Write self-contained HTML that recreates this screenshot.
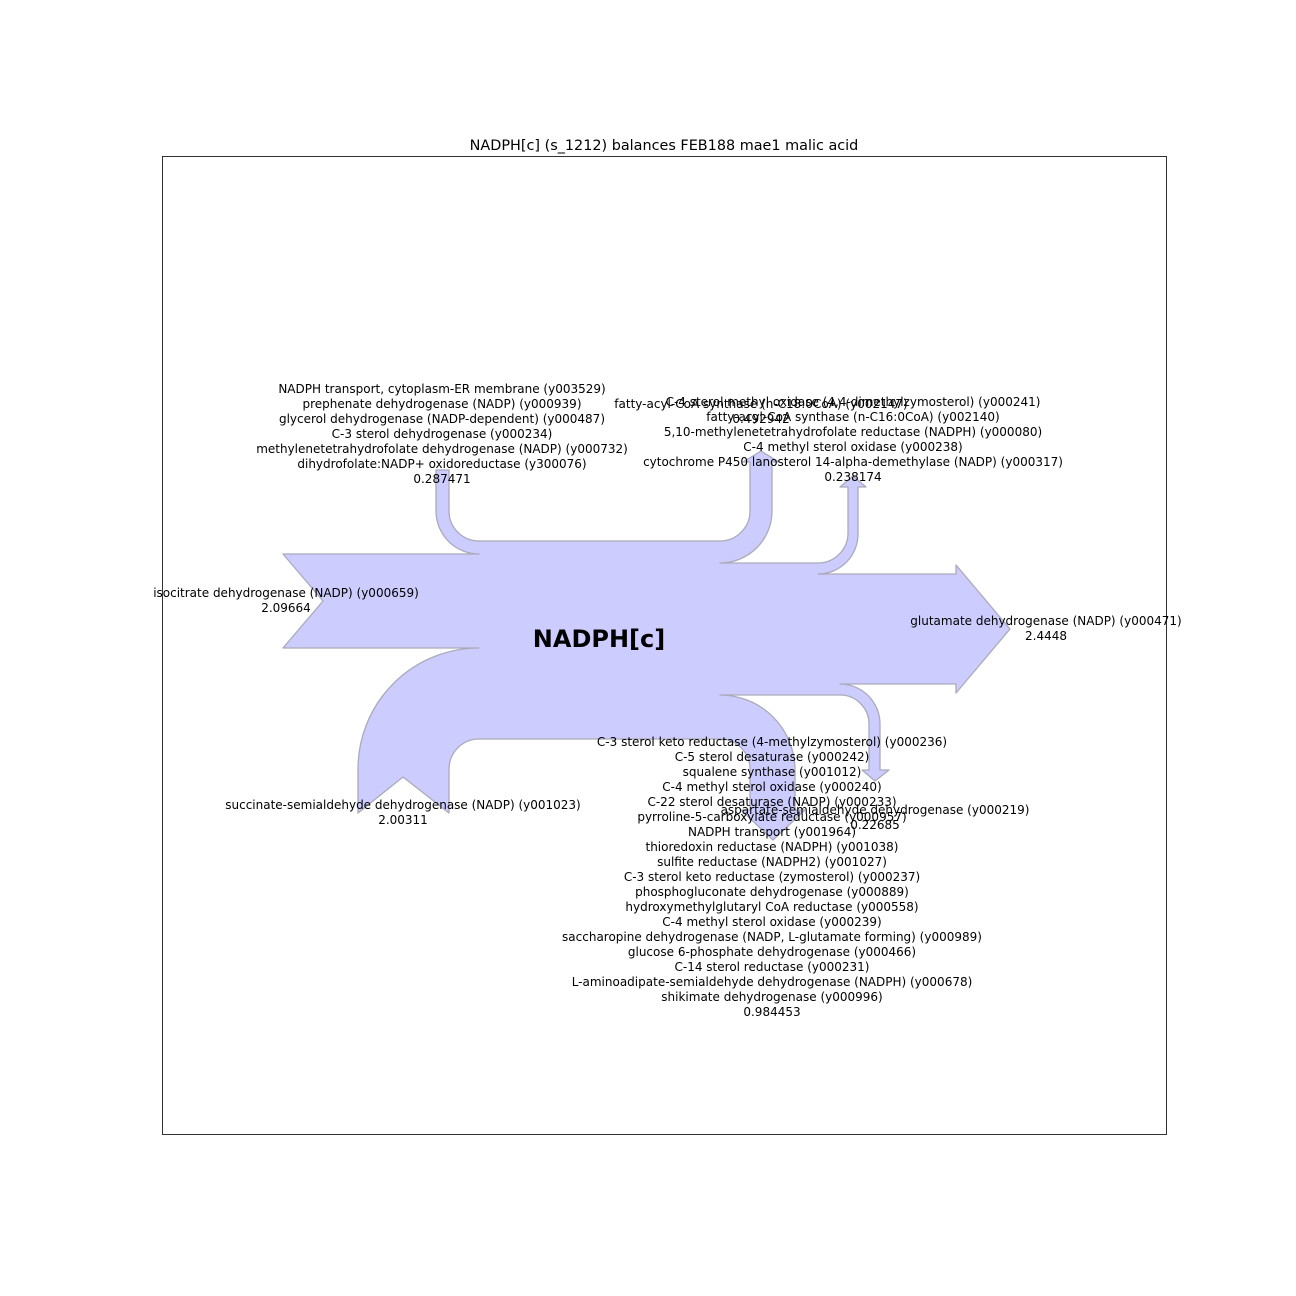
<!DOCTYPE html>
<html><head><meta charset="utf-8"><style>
html,body{margin:0;padding:0;background:#fff;}
svg{display:block;}
text{font-family:"DejaVu Sans","Liberation Sans",sans-serif;font-size:12px;fill:#000;}
</style></head><body>
<svg width="1296" height="1296" viewBox="0 0 1296 1296" xmlns="http://www.w3.org/2000/svg">
<rect x="162.5" y="156.5" width="1004" height="978" fill="none" stroke="#000" stroke-width="0.8"/>
<text x="664" y="150" text-anchor="middle" style="font-size:14.4px">NADPH[c] (s_1212) balances FEB188 mae1 malic acid</text>
<path fill="#ccccff" stroke="#aaaabb" stroke-width="1.3" stroke-linejoin="round" d="
M283,554 L479,554 A43,43 0 0 1 436,511 L436,470 L449,470 L449,511 A30,30 0 0 0 479,541
L720,541 A30,30 0 0 0 750,511 L750,462 L743,462 L761,451 L779,462 L772,462 L772,511 A52,52 0 0 1 720,563
L818,563 A30,30 0 0 0 848,533 L848,487 L840,487 L853,476 L866,487 L858,487 L858,533 A40,40 0 0 1 818,574
L956,574 L956,565 L1010,629 L956,693 L956,684 L840,684 A40,40 0 0 1 880,724 L880,770 L889,770 L875,781 L862,770 L869,770 L869,724 A29,29 0 0 0 840,695
L720,695 A75,75 0 0 1 795,770 L795,810 L805,810 L773,840 L741,810 L750,810 L750,769 A30,30 0 0 0 720,739
L479,739 A30,30 0 0 0 449,769 L449,813 L403,777 L358,813 L358,769 A121,121 0 0 1 479,648 L283,648 L323,601 Z"/>
<text x="599" y="647" text-anchor="middle" style="font-size:24px;font-weight:bold">NADPH[c]</text>
<g text-anchor="middle">
<text x="442" y="393">NADPH transport, cytoplasm-ER membrane (y003529)</text>
<text x="442" y="408">prephenate dehydrogenase (NADP) (y000939)</text>
<text x="442" y="423">glycerol dehydrogenase (NADP-dependent) (y000487)</text>
<text x="442" y="438">C-3 sterol dehydrogenase (y000234)</text>
<text x="442" y="453">methylenetetrahydrofolate dehydrogenase (NADP) (y000732)</text>
<text x="442" y="468">dihydrofolate:NADP+ oxidoreductase (y300076)</text>
<text x="442" y="483">0.287471</text>
<text x="761" y="408">fatty-acyl-CoA synthase (n-C18:0CoA) (y002147)</text>
<text x="761" y="423">0.492942</text>
<text x="853" y="406">C-4 sterol methyl oxidase (4,4-dimethylzymosterol) (y000241)</text>
<text x="853" y="421">fatty-acyl-CoA synthase (n-C16:0CoA) (y002140)</text>
<text x="853" y="436">5,10-methylenetetrahydrofolate reductase (NADPH) (y000080)</text>
<text x="853" y="451">C-4 methyl sterol oxidase (y000238)</text>
<text x="853" y="466">cytochrome P450 lanosterol 14-alpha-demethylase (NADP) (y000317)</text>
<text x="853" y="481">0.238174</text>
<text x="286" y="597">isocitrate dehydrogenase (NADP) (y000659)</text>
<text x="286" y="612">2.09664</text>
<text x="1046" y="625">glutamate dehydrogenase (NADP) (y000471)</text>
<text x="1046" y="640">2.4448</text>
<text x="403" y="809">succinate-semialdehyde dehydrogenase (NADP) (y001023)</text>
<text x="403" y="824">2.00311</text>
<text x="875" y="814">aspartate-semialdehyde dehydrogenase (y000219)</text>
<text x="875" y="829">0.22685</text>
<text x="772" y="746">C-3 sterol keto reductase (4-methylzymosterol) (y000236)</text>
<text x="772" y="761">C-5 sterol desaturase (y000242)</text>
<text x="772" y="776">squalene synthase (y001012)</text>
<text x="772" y="791">C-4 methyl sterol oxidase (y000240)</text>
<text x="772" y="806">C-22 sterol desaturase (NADP) (y000233)</text>
<text x="772" y="821">pyrroline-5-carboxylate reductase (y000957)</text>
<text x="772" y="836">NADPH transport (y001964)</text>
<text x="772" y="851">thioredoxin reductase (NADPH) (y001038)</text>
<text x="772" y="866">sulfite reductase (NADPH2) (y001027)</text>
<text x="772" y="881">C-3 sterol keto reductase (zymosterol) (y000237)</text>
<text x="772" y="896">phosphogluconate dehydrogenase (y000889)</text>
<text x="772" y="911">hydroxymethylglutaryl CoA reductase (y000558)</text>
<text x="772" y="926">C-4 methyl sterol oxidase (y000239)</text>
<text x="772" y="941">saccharopine dehydrogenase (NADP, L-glutamate forming) (y000989)</text>
<text x="772" y="956">glucose 6-phosphate dehydrogenase (y000466)</text>
<text x="772" y="971">C-14 sterol reductase (y000231)</text>
<text x="772" y="986">L-aminoadipate-semialdehyde dehydrogenase (NADPH) (y000678)</text>
<text x="772" y="1001">shikimate dehydrogenase (y000996)</text>
<text x="772" y="1016">0.984453</text>
</g>
</svg>
</body></html>
